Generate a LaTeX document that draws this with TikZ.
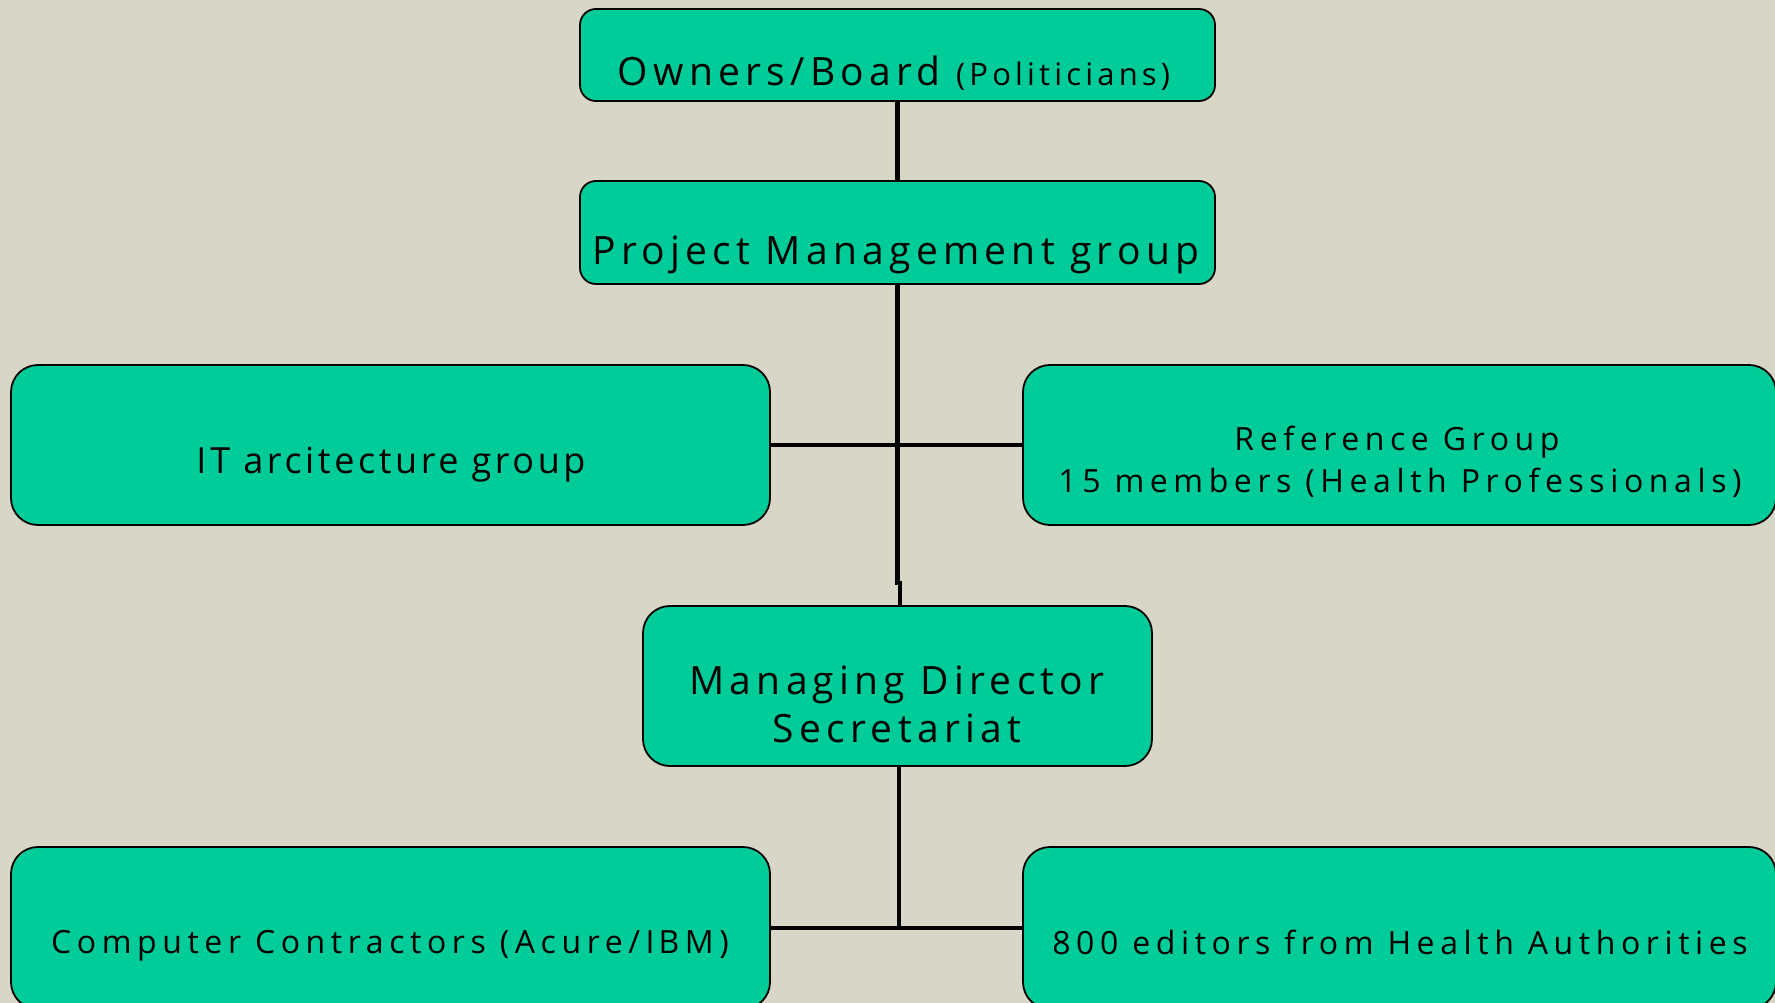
\documentclass[tikz,border=0pt]{standalone}
\usepackage{fontspec}
\setmainfont{Open Sans}[LetterSpace=10]
\newfontfamily\trackA{Open Sans}[LetterSpace=13.5]
\newfontfamily\trackB{Open Sans}[LetterSpace=17.5]
\definecolor{bgcol}{RGB}{216,214,198}
\definecolor{boxfill}{RGB}{0,204,153}
\begin{document}
\begin{tikzpicture}[x=1pt,y=-1pt,
  orgbox/.style={draw=black, line width=1.8pt, fill=boxfill, inner sep=0pt, outer sep=0pt},
  smallr/.style={rounded corners=16pt},
  bigr/.style={rounded corners=27pt},
  lbl/.style={anchor=base, inner sep=0pt, outer sep=0pt, text=black},
  conn/.style={line width=4.5pt, black},
  fbig/.style={font=\trackA\fontsize{39}{44}\selectfont},
  fmid/.style={font=\fontsize{36}{42}\selectfont},
  fsmall/.style={font=\trackB\fontsize{32}{38}\selectfont}
]
\useasboundingbox (0,0) rectangle (1775,1003);
\fill[bgcol] (0,0) rectangle (1775,1003);
\clip (0,0) rectangle (1775,1003);

% boxes
\node[orgbox,smallr,minimum width=635pt,minimum height=92pt] (owners) at (897.5,55) {};
\node[orgbox,smallr,minimum width=635pt,minimum height=103pt] (pm) at (897.5,232.5) {};
\node[orgbox,bigr,minimum width=759pt,minimum height=160pt] (it) at (390.5,445) {};
\node[orgbox,bigr,minimum width=753pt,minimum height=160pt] (ref) at (1399.5,445) {};
\node[orgbox,bigr,minimum width=509pt,minimum height=160pt] (md) at (897.5,686) {};
\node[orgbox,bigr,minimum width=759pt,minimum height=162pt] (cc) at (390.5,928) {};
\node[orgbox,bigr,minimum width=753pt,minimum height=162pt] (ed) at (1399.5,928) {};

% texts
\node[lbl] (ownersT) at (894,86) {\trackA\fontsize{39}{44}\selectfont Owners/Board \fontsize{31}{36}\selectfont(Politicians)};
\node[lbl,fbig] (pmT) at (896,265) {Project Management group};
\node[lbl,fmid] (itT) at (391,473) {I\kern4pt T arcitecture group};
\node[lbl,fsmall] (refT1) at (1397,450) {Reference Group};
\node[lbl,fsmall] (refT2) at (1400,492) {15 members (Health Professionals)};
\node[lbl,fbig] (mdT1) at (897,694) {Managing Director};
\node[lbl,fbig] (mdT2) at (897,742) {Secretariat};
\node[lbl,fsmall] (ccT) at (390,953) {Computer Contractors (Acure/I\kern4pt BM)};
\node[lbl,fsmall] (edT) at (1400,954) {800 editors from Health Authorities};

% connectors
\coordinate (jogA) at (897.5,583);
\coordinate (jogB) at (900,583);
\coordinate (bottomJ) at (899,928);
\draw[conn] (owners.south) -- (pm.north);
\draw[conn] (pm.south) -- (jogA) -- (jogB) -- (md.north -| jogB);
\draw[conn] (it.east) -- (ref.west);
\draw[conn] (md.south -| bottomJ) -- (bottomJ);
\draw[conn] (cc.east) -- (ed.west);
\end{tikzpicture}
\end{document}
